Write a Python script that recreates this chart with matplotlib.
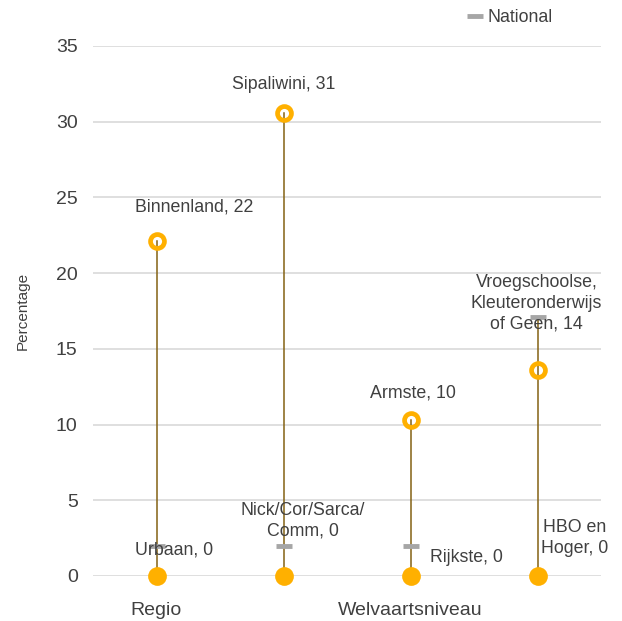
import matplotlib
matplotlib.use("Agg")
import matplotlib.pyplot as plt

plt.rcParams["font.family"] = ["Liberation Sans", "DejaVu Sans"]

# chart data
group_labels = ["Regio", "", "Welvaartsniveau", ""]
high_names = ["Binnenland", "Sipaliwini", "Armste", "Vroegschoolse,\nKleuteronderwijs\nof Geen"]
high_values = [22.1, 30.6, 10.3, 13.6]
low_names = ["Urbaan", "Nick/Cor/Sarca/\nComm", "Rijkste", "HBO en\nHoger"]
low_values = [0, 0, 0, 0]
national = [2.0, 2.0, 2.0, 17.1]

# label offsets in pixels (style, not data)
high_off = [(38, 34), (0, 28), (2, 27), (-1, 67)]
low_off = [(18, 26), (19, 55), (56, 18), (37, 38)]

orange = "#FFB000"
stem = "#846214"
grey = "#A6A6A6"
txt = "#404040"

fig = plt.figure(figsize=(6.22, 6.21), dpi=100)
ax = fig.add_axes([93 / 622, 45 / 621, 508 / 622, 530 / 621])

x = list(range(len(high_values)))
for i in x:
    lo = min(high_values[i], low_values[i], national[i])
    hi = max(high_values[i], low_values[i], national[i])
    ax.plot([i, i], [lo, hi], color=stem, lw=1.1, zorder=2)

ax.plot(x, national, ls="none", marker="_", ms=12, mew=3.5, color=grey,
        zorder=3, label="National")
ax.plot(x, high_values, ls="none", marker="o", ms=10, mew=3.4,
        mfc="none", mec=orange, zorder=4, clip_on=False)
ax.plot(x, low_values, ls="none", marker="o", ms=13.5, mew=0,
        color=orange, zorder=4, clip_on=False)

for i in x:
    ax.annotate(f"{high_names[i]}, {round(high_values[i])}", (i, high_values[i]),
                xytext=high_off[i], textcoords="offset pixels", ha="center",
                va="center", fontsize=12.8, color=txt, linespacing=1.3, zorder=5)
    ax.annotate(f"{low_names[i]}, {round(low_values[i])}", (i, low_values[i]),
                xytext=low_off[i], textcoords="offset pixels", ha="center",
                va="center", fontsize=12.8, color=txt, linespacing=1.3, zorder=5)

ax.set_xlim(-0.5, 3.5)
ax.set_ylim(0, 35)
ax.set_yticks(range(0, 36, 5))
ax.set_xticks(x)
ax.set_xticklabels(group_labels)
ax.tick_params(axis="both", length=0, labelsize=14, colors=txt)
ax.tick_params(axis="x", pad=19)
ax.tick_params(axis="y", pad=11)
ax.grid(axis="y", color="#D9D9D9", lw=1.2)
ax.set_axisbelow(True)
for s in ax.spines.values():
    s.set_visible(False)

ax.set_ylabel("Percentage", fontsize=11, color=txt, labelpad=19)

ax.legend(loc="center", bbox_to_anchor=(510 / 622, 1 - 18 / 621),
          bbox_transform=fig.transFigure, frameon=False, fontsize=12.8,
          handlelength=0.8, handletextpad=0.3, labelcolor=txt)

fig.savefig("out.png", dpi=100)
